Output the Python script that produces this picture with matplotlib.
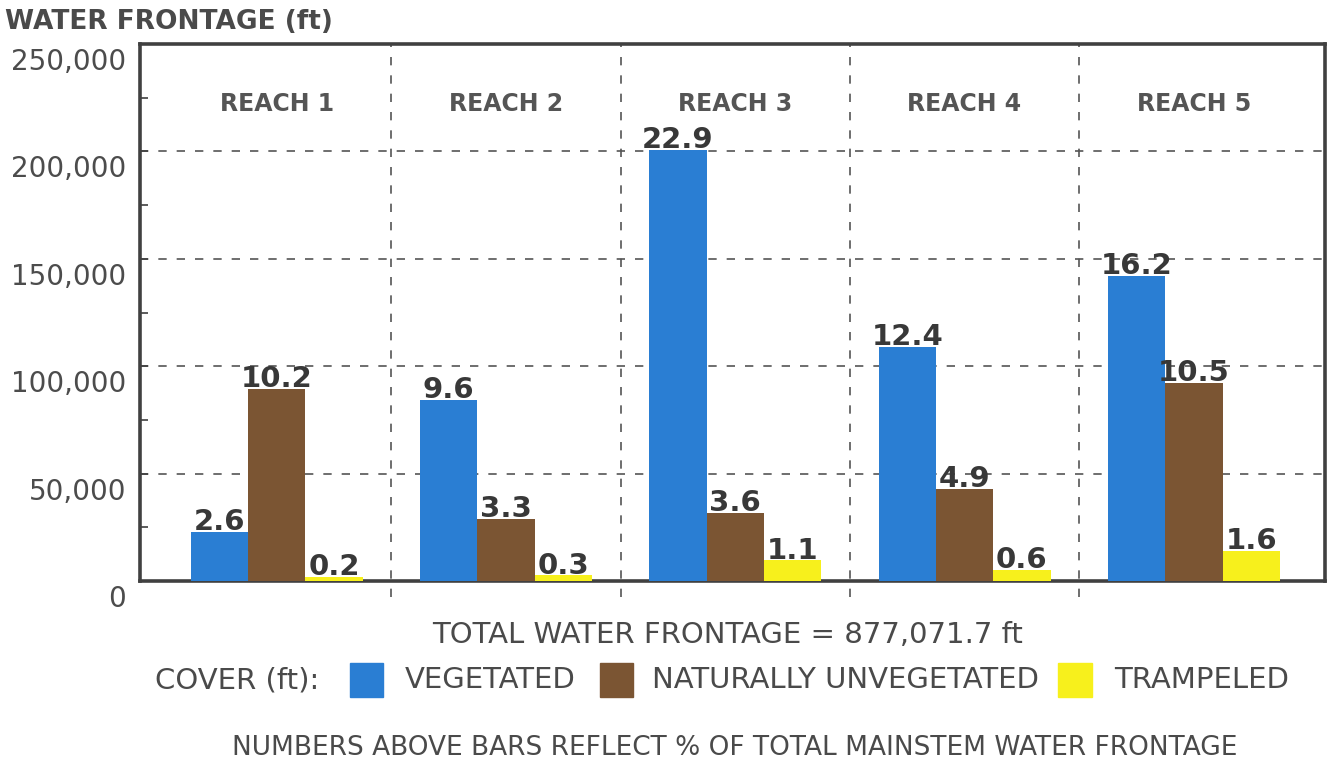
import matplotlib
matplotlib.use('Agg')
import matplotlib.pyplot as plt
from matplotlib.patches import Rectangle
from matplotlib.transforms import ScaledTranslation
import numpy as np

# Data (water frontage in feet per reach)
reaches = ['REACH 1', 'REACH 2', 'REACH 3', 'REACH 4', 'REACH 5']
vegetated = [22800, 84200, 200800, 108800, 142100]
unvegetated = [89500, 28900, 31600, 43000, 92100]
trampled = [1800, 2600, 9600, 5300, 14000]
# percent of total mainstem frontage printed above each bar
pct_veg = ['2.6', '9.6', '22.9', '12.4', '16.2']
pct_unveg = ['10.2', '3.3', '3.6', '4.9', '10.5']
pct_tramp = ['0.2', '0.3', '1.1', '0.6', '1.6']
yticks = [0, 50000, 100000, 150000, 200000, 250000]

BLUE = '#2a7ed3'
BROWN = '#7b5533'
YELLOW = '#f7f01c'
TXT = '#4a4a4a'
FRAME = '#404040'

fig = plt.figure(figsize=(13.28, 7.65), dpi=100)
ax = fig.add_axes([0.1054, 0.2405, 0.892, 0.702])

x = np.arange(len(reaches))
w = 0.25
series = [(vegetated, pct_veg, BLUE, -w),
          (unvegetated, pct_unveg, BROWN, 0),
          (trampled, pct_tramp, YELLOW, w)]
for vals, pcts, col, off in series:
    bars = ax.bar(x + off, vals, width=w, color=col, zorder=3)
    for b, p in zip(bars, pcts):
        ax.annotate(p, (b.get_x() + b.get_width() / 2, b.get_height()),
                    xytext=(0, -3), textcoords='offset points',
                    ha='center', va='bottom', fontsize=21,
                    fontweight='bold', color='#383838', zorder=4)

ax.set_xlim(-0.596, 4.57)
ax.set_ylim(0, 250000)

# dashed horizontal grid and dashed reach separators
for yv in yticks[1:-1]:
    ax.axhline(yv, color='#555555', lw=1.2, ls=(0, (5, 6)), zorder=1)
for xs in x[:-1] + 0.5:
    ax.plot([xs, xs], [-7500, 250000], color='#555555', lw=1.2,
            ls=(0, (5, 6)), clip_on=False, zorder=1)

for i, r in enumerate(reaches):
    ax.text(i, 222000, r, ha='center', va='center', fontsize=17,
            fontweight='bold', color='#555555')

# ticks
ax.set_yticks(yticks)
ax.set_yticklabels(['{:,}'.format(v) for v in yticks])
ax.set_yticks(np.arange(25000, 250000, 50000), minor=True)
ax.set_xticks(x)
ax.set_xticklabels([])
ax.tick_params(axis='y', which='both', direction='in', length=6, width=1.2,
               color=FRAME, labelsize=20, labelcolor='#4c4c4c', pad=10)
ax.tick_params(axis='x', direction='in', length=6, width=1.2, color=FRAME)
shift = ScaledTranslation(0, -15 / 100, fig.dpi_scale_trans)
for lab in ax.get_yticklabels():
    lab.set_transform(lab.get_transform() + shift)

for sp in ax.spines.values():
    sp.set_linewidth(2.6)
    sp.set_color(FRAME)

fig.text(0.004, 0.971, 'WATER FRONTAGE (ft)', fontsize=19, fontweight='bold',
         color=TXT, ha='left', va='center')

fig.text(0.548, 0.170, 'TOTAL WATER FRONTAGE = 877,071.7 ft', fontsize=21,
         color=TXT, ha='center', va='center')

# legend row built by hand
ly = 0.111
fig.text(0.117, ly, 'COVER (ft):', fontsize=21, color=TXT, ha='left', va='center')
items = [(BLUE, 0.2636, 'VEGETATED', 0.305),
         (BROWN, 0.452, 'NATURALLY UNVEGETATED', 0.491),
         (YELLOW, 0.797, 'TRAMPELED', 0.839)]
for col, px, lab, tx in items:
    fig.patches.append(Rectangle((px, ly - 0.022), 0.025, 0.044, color=col,
                                 transform=fig.transFigure, figure=fig))
    fig.text(tx, ly, lab, fontsize=21, color=TXT, ha='left', va='center')

fig.text(0.553, 0.022, 'NUMBERS ABOVE BARS REFLECT % OF TOTAL MAINSTEM WATER FRONTAGE',
         fontsize=19, color=TXT, ha='center', va='center')

fig.savefig('out.png', dpi=100)
